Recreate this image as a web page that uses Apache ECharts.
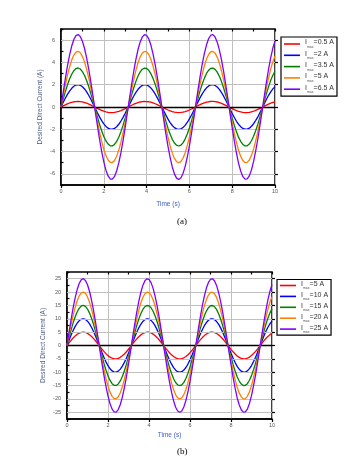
<!DOCTYPE html>
<html><head><meta charset="utf-8">
<script src="https://cdn.jsdelivr.net/npm/echarts@6/dist/echarts.min.js"></script>
<style>html,body{margin:0;padding:0;background:#fff}#c{width:363px;height:471px}</style>
</head><body><div id="c"></div>
<script>
// Time samples (s)
const time = [0,0.1,0.2,0.3,0.4,0.5,0.6,0.7,0.8,0.9,1,1.1,1.2,1.3,1.4,1.5,1.6,1.7,1.8,1.9,2,2.1,2.2,2.3,2.4,2.5,2.6,2.7,2.8,2.9,3,3.1,3.2,3.3,3.4,3.5,3.6,3.7,3.8,3.9,4,4.1,4.2,4.3,4.4,4.5,4.6,4.7,4.8,4.9,5,5.1,5.2,5.3,5.4,5.5,5.6,5.7,5.8,5.9,6,6.1,6.2,6.3,6.4,6.5,6.6,6.7,6.8,6.9,7,7.1,7.2,7.3,7.4,7.5,7.6,7.7,7.8,7.9,8,8.1,8.2,8.3,8.4,8.5,8.6,8.7,8.8,8.9,9,9.1,9.2,9.3,9.4,9.5,9.6,9.7,9.8,9.9,10];

// Chart (a): I_max = 0.5, 2, 3.5, 5, 6.5 A
const namesA = ['0.5 A','2 A','3.5 A','5 A','6.5 A'];
const a05 = [0,0.10,0.19,0.28,0.36,0.42,0.47,0.49,0.50,0.49,0.45,0.40,0.34,0.26,0.17,0.07,-0.03,-0.13,-0.22,-0.31,-0.38,-0.44,-0.48,-0.50,-0.50,-0.48,-0.44,-0.39,-0.32,-0.23,-0.14,-0.04,0.06,0.16,0.25,0.33,0.40,0.45,0.48,0.50,0.49,0.47,0.43,0.37,0.29,0.21,0.11,0.01,-0.09,-0.18,-0.27,-0.35,-0.41,-0.46,-0.49,-0.50,-0.49,-0.46,-0.41,-0.35,-0.27,-0.18,-0.08,0.02,0.12,0.21,0.30,0.37,0.43,0.47,0.50,0.50,0.48,0.45,0.39,0.33,0.24,0.15,0.05,-0.05,-0.14,-0.24,-0.32,-0.39,-0.44,-0.48,-0.50,-0.50,-0.48,-0.43,-0.38,-0.30,-0.22,-0.12,-0.03,0.08,0.17,0.26,0.34,0.41,0.46];
const a2 = [0,0.40,0.78,1.13,1.43,1.68,1.86,1.97,2.00,1.95,1.82,1.62,1.35,1.03,0.67,0.28,-0.12,-0.51,-0.89,-1.22,-1.51,-1.74,-1.90,-1.99,-1.99,-1.92,-1.77,-1.55,-1.26,-0.93,-0.56,-0.17,0.23,0.62,0.99,1.31,1.59,1.80,1.94,2.00,1.98,1.88,1.71,1.47,1.17,0.82,0.45,0.05,-0.35,-0.73,-1.09,-1.40,-1.66,-1.85,-1.96,-2.00,-1.96,-1.84,-1.65,-1.39,-1.07,-0.72,-0.33,0.07,0.46,0.84,1.18,1.48,1.72,1.89,1.98,2.00,1.93,1.79,1.58,1.30,0.97,0.61,0.22,-0.18,-0.58,-0.94,-1.28,-1.56,-1.77,-1.92,-1.99,-1.99,-1.90,-1.73,-1.50,-1.20,-0.88,-0.49,-0.10,0.30,0.69,1.05,1.36,1.63,1.83];
const a35 = [0,0.70,1.36,1.98,2.51,2.94,3.26,3.45,3.50,3.41,3.18,2.83,2.36,1.81,1.17,0.49,-0.20,-0.90,-1.55,-2.14,-2.65,-3.05,-3.33,-3.48,-3.49,-3.36,-3.09,-2.71,-2.21,-1.63,-0.98,-0.29,0.41,1.09,1.73,2.30,2.78,3.15,3.39,3.49,3.46,3.29,2.99,2.57,2.05,1.44,0.78,0.09,-0.61,-1.28,-1.90,-2.45,-2.90,-3.23,-3.43,-3.50,-3.43,-3.22,-2.88,-2.43,-1.88,-1.25,-0.58,0.12,0.81,1.47,2.07,2.59,3.01,3.30,3.47,3.49,3.38,3.13,2.76,2.28,1.70,1.06,0.38,-0.32,-1.01,-1.65,-2.23,-2.73,-3.10,-3.36,-3.49,-3.48,-3.33,-3.03,-2.63,-2.11,-1.54,-0.86,-0.18,0.53,1.20,1.83,2.39,2.85,3.20];
const a5 = [0,1.00,1.95,2.83,3.59,4.21,4.66,4.93,5.00,4.87,4.55,4.04,3.38,2.58,1.68,0.71,-0.29,-1.28,-2.22,-3.06,-3.79,-4.36,-4.76,-4.97,-4.98,-4.80,-4.42,-3.87,-3.16,-2.33,-1.40,-0.42,0.59,1.56,2.47,3.29,3.97,4.50,4.84,4.99,4.95,4.71,4.28,3.67,2.93,2.06,1.12,0.13,-0.88,-1.84,-2.72,-3.50,-4.14,-4.62,-4.91,-5.00,-4.90,-4.60,-4.12,-3.47,-2.69,-1.79,-0.83,0.17,1.16,2.10,2.96,3.70,4.30,4.72,4.96,4.99,4.83,4.48,3.94,3.25,2.44,1.52,0.54,-0.46,-1.44,-2.36,-3.19,-3.91,-4.44,-4.81,-4.99,-4.97,-4.76,-4.34,-3.76,-3.01,-2.20,-1.24,-0.25,0.75,1.72,2.62,3.41,4.07,4.57];
const a65 = [0,1.29,2.53,3.67,4.66,5.47,6.06,6.40,6.50,6.33,5.91,5.25,4.39,3.35,2.18,0.92,-0.38,-1.66,-2.88,-3.98,-4.92,-5.67,-6.19,-6.46,-6.47,-6.23,-5.74,-5.02,-4.10,-3.02,-1.81,-0.54,0.76,2.03,3.21,4.27,5.16,5.84,6.29,6.49,6.43,6.12,5.56,4.77,3.80,2.68,1.45,0.16,-1.14,-2.39,-3.54,-4.54,-5.38,-6.00,-6.38,-6.50,-6.37,-5.97,-5.35,-4.51,-3.49,-2.33,-1.08,0.22,1.51,2.73,3.85,4.81,5.58,6.14,6.44,6.49,6.28,5.82,5.12,4.23,3.17,1.97,0.70,-0.60,-1.87,-3.07,-4.15,-5.08,-5.77,-6.25,-6.48,-6.45,-6.18,-5.64,-4.88,-3.91,-2.85,-1.61,-0.33,0.98,2.23,3.40,4.43,5.29,5.93];
const yTicksA = [-6,-4,-2,0,2,4,6];

// Chart (b): I_max = 5, 10, 15, 20, 25 A
const namesB = ['5 A','10 A','15 A','20 A','25 A'];
const b5 = [0,1.00,1.95,2.83,3.59,4.21,4.66,4.93,5.00,4.87,4.55,4.04,3.38,2.58,1.68,0.71,-0.29,-1.28,-2.22,-3.06,-3.79,-4.36,-4.76,-4.97,-4.98,-4.80,-4.42,-3.87,-3.16,-2.33,-1.40,-0.42,0.59,1.56,2.47,3.29,3.97,4.50,4.84,4.99,4.95,4.71,4.28,3.67,2.93,2.06,1.12,0.13,-0.88,-1.84,-2.72,-3.50,-4.14,-4.62,-4.91,-5.00,-4.90,-4.60,-4.12,-3.47,-2.69,-1.79,-0.83,0.17,1.16,2.10,2.96,3.70,4.30,4.72,4.96,4.99,4.83,4.48,3.94,3.25,2.44,1.52,0.54,-0.46,-1.44,-2.36,-3.19,-3.91,-4.44,-4.81,-4.99,-4.97,-4.76,-4.34,-3.76,-3.01,-2.20,-1.24,-0.25,0.75,1.72,2.62,3.41,4.07,4.57];
const b10 = [0,1.99,3.89,5.65,7.17,8.41,9.32,9.85,10.00,9.74,9.09,8.08,6.75,5.16,3.35,1.41,-0.58,-2.56,-4.43,-6.12,-7.57,-8.72,-9.52,-9.94,-9.96,-9.59,-8.83,-7.73,-6.31,-4.65,-2.79,-0.83,1.17,3.12,4.94,6.57,7.94,8.99,9.68,9.98,9.89,9.41,8.55,7.34,5.85,4.12,2.23,0.25,-1.75,-3.67,-5.44,-6.99,-8.28,-9.23,-9.81,-10.00,-9.80,-9.19,-8.23,-6.94,-5.37,-3.58,-1.66,0.34,2.32,4.20,5.92,7.40,8.59,9.44,9.91,9.98,9.66,8.95,7.88,6.50,4.87,3.03,1.08,-0.92,-2.88,-4.72,-6.38,-7.81,-8.87,-9.61,-9.97,-9.93,-9.51,-8.67,-7.51,-6.02,-4.39,-2.47,-0.50,1.50,3.43,5.23,6.82,8.14,9.13];
const b15 = [0,2.99,5.84,8.48,10.76,12.62,13.98,14.78,15.00,14.61,13.64,12.12,10.13,7.74,5.03,2.12,-0.87,-3.84,-6.65,-9.18,-11.36,-13.08,-14.28,-14.91,-14.94,-14.39,-13.25,-11.60,-9.47,-6.98,-4.19,-1.25,1.76,4.68,7.41,9.86,11.91,13.49,14.52,14.97,14.84,14.12,12.83,11.01,8.78,6.18,3.35,0.38,-2.63,-5.51,-8.16,-10.49,-12.42,-13.85,-14.72,-15.00,-14.70,-13.79,-12.35,-10.41,-8.06,-5.37,-2.49,0.51,3.48,6.30,8.88,11.10,12.89,14.16,14.87,14.97,14.49,13.43,11.82,9.75,7.31,4.55,1.62,-1.38,-4.32,-7.08,-9.57,-11.72,-13.31,-14.42,-14.96,-14.90,-14.27,-13.01,-11.27,-9.03,-6.59,-3.71,-0.75,2.25,5.15,7.85,10.23,12.21,13.70];
const b20 = [0,3.98,7.78,11.30,14.34,16.82,18.64,19.70,20.00,19.48,18.18,16.16,13.50,10.32,6.70,2.82,-1.16,-5.12,-8.86,-12.24,-15.14,-17.44,-19.04,-19.88,-19.92,-19.18,-17.66,-15.46,-12.62,-9.30,-5.58,-1.66,2.34,6.24,9.88,13.14,15.88,17.98,19.36,19.96,19.78,18.82,17.10,14.68,11.70,8.24,4.46,0.50,-3.50,-7.34,-10.88,-13.98,-16.56,-18.46,-19.62,-20.00,-19.60,-18.38,-16.46,-13.88,-10.74,-7.16,-3.32,0.68,4.64,8.40,11.84,14.80,17.18,18.88,19.82,19.96,19.32,17.90,15.76,13.00,9.74,6.06,2.16,-1.84,-5.76,-9.44,-12.76,-15.62,-17.74,-19.22,-19.94,-19.86,-19.02,-17.34,-15.02,-12.04,-8.78,-4.94,-1.00,3.00,6.86,10.46,13.64,16.28,18.26];
const b25 = [0,4.98,9.73,14.13,17.93,21.03,23.30,24.63,25.00,24.35,22.73,20.20,16.88,12.90,8.38,3.53,-1.45,-6.40,-11.08,-15.30,-18.93,-21.80,-23.80,-24.85,-24.90,-23.98,-22.08,-19.33,-15.78,-11.63,-6.98,-2.08,2.93,7.80,12.35,16.43,19.85,22.48,24.20,24.95,24.73,23.53,21.38,18.35,14.63,10.30,5.58,0.63,-4.38,-9.18,-13.60,-17.48,-20.70,-23.08,-24.53,-25.00,-24.50,-22.98,-20.58,-17.35,-13.43,-8.95,-4.15,0.85,5.80,10.50,14.80,18.50,21.48,23.60,24.78,24.95,24.15,22.38,19.70,16.25,12.18,7.58,2.70,-2.30,-7.20,-11.80,-15.95,-19.53,-22.18,-24.03,-24.93,-24.83,-23.78,-21.68,-18.78,-15.05,-10.98,-6.18,-1.25,3.75,8.58,13.08,17.05,20.35,22.83];
const yTicksB = [-25,-20,-15,-10,-5,0,5,10,15,20,25];

const colors = ['#ff0000','#0000ff','#008000','#ff8000','#8000ff'];
const FONT = 'Liberation Sans, Arial, sans-serif';
const pair = arr => arr.map((v,i)=>[time[i], v]);
// unique internal series ids per panel: "a|5 A", "b|5 A"
const key = (p, n) => p + '|' + n;

function mkSeries(gi, prefix, names, arrs, gridVals) {
  return arrs.map((arr, k) => {
    const s = {
      type:'line', name: key(prefix, names[k]), xAxisIndex: gi*2, yAxisIndex: gi*2,
      data: pair(arr), smooth: false, symbol:'none', showSymbol:false,
      lineStyle:{color: colors[k], width:1.3}, itemStyle:{color: colors[k]},
      z: 3 + k
    };
    if (k === 0) {
      s.markLine = {
        silent:true, symbol:'none', label:{show:false}, animation:false,
        data: gridVals.map(v => ({yAxis: v, lineStyle:{color: v===0 ? '#000' : '#c0c0c0', width: v===0 ? 1.4 : 1, type:'solid'}}))
      };
    }
    return s;
  });
}

function mkAxes(gi, ymin, ymax, yint, yTicks, nameGapY) {
  const labelStyle = {fontSize:5.5, color:'#555', fontFamily: FONT};
  const xa = [
    {gridIndex:gi, type:'value', min:0, max:10, interval:2,
     axisLine:{show:true, onZero:false, lineStyle:{color:'#000', width:1.5}},
     axisTick:{show:true, inside:false, length:3, lineStyle:{color:'#000', width:1.2}},
     axisLabel:{...labelStyle, margin:3},
     splitLine:{show:true, lineStyle:{color:'#c0c0c0', width:1}},
     name:'Time (s)', nameLocation:'middle', nameGap: gi===0 ? 16 : 13, nameMoveOverlap:false,
     nameTextStyle:{fontSize:6.5, color:'#3d5fc4', fontFamily: FONT}},
    {gridIndex:gi, type:'value', min:0, max:10, interval:1,
     axisLine:{show:false, onZero:false},
     axisTick:{show:true, inside:true, length:2.5, lineStyle:{color:'#000', width:1.2}},
     axisLabel:{show:false}, splitLine:{show:false}}
  ];
  const ya = [
    {gridIndex:gi, type:'value', min:ymin, max:ymax, interval:yint,
     axisLine:{show:true, onZero:false, lineStyle:{color:'#000', width:1.5}},
     axisTick:{show:true, inside:true, length:2.5, lineStyle:{color:'#000', width:1.2}},
     axisLabel:{...labelStyle, margin:6, formatter: v => yTicks.indexOf(Math.round(v*100)/100) >= 0 ? String(v) : ''},
     splitLine:{show:false},
     name:'Desired Direct Current (A)', nameLocation:'middle', nameGap: nameGapY, nameMoveOverlap:false,
     nameTextStyle:{fontSize:6.5, color:'#4a5a85', fontFamily: FONT}},
    {gridIndex:gi, type:'value', min:ymin, max:ymax, interval:yint,
     axisLine:{show:false, onZero:false},
     axisTick:{show:true, inside:false, length:3, customValues: yTicks, lineStyle:{color:'#000', width:1.2}},
     axisLabel:{show:false}, splitLine:{show:false}}
  ];
  return {xa, ya};
}

const axA = mkAxes(0, -7, 7, 1, yTicksA, 17);
const axB = mkAxes(1, -27.5, 27.5, 2.5, yTicksB, 20);

const legendCommon = {
  orient:'vertical', icon:'rect', itemWidth:16, itemHeight:1.6,
  borderColor:'#000', borderWidth:1.2, backgroundColor:'#fff',
  formatter: n => '{i|I}{s|max}{t|=' + n.split('|')[1] + '}',
  textStyle:{
    fontFamily: FONT, color:'#333',
    rich:{
      i:{fontSize:7, fontFamily: FONT, color:'#333', verticalAlign:'top', lineHeight:10},
      s:{fontSize:3.5, fontFamily: FONT, color:'#555', verticalAlign:'bottom', lineHeight:10},
      t:{fontSize:7, fontFamily: FONT, color:'#333', verticalAlign:'top', lineHeight:10}
    }
  }
};

const chart = echarts.init(document.getElementById('c'), null, {renderer:'canvas'});
chart.setOption({
  animation:false,
  backgroundColor:'#fff',
  grid:[
    {left:61, top:29, width:214, height:156, show:true, borderColor:'#000', borderWidth:1.5, backgroundColor:'transparent'},
    {left:67, top:272, width:205, height:147, show:true, borderColor:'#000', borderWidth:1.5, backgroundColor:'transparent'}
  ],
  xAxis: [...axA.xa, ...axB.xa],
  yAxis: [...axA.ya, ...axB.ya],
  legend:[
    {...legendCommon, data: namesA.map(n => key('a', n)), left:281, top:37, padding:[2,3,2,3], itemGap:1.3},
    {...legendCommon, data: namesB.map(n => key('b', n)), left:277, top:279.5, padding:[1,3,1,3], itemGap:0.9}
  ],
  series:[
    ...mkSeries(0, 'a', namesA, [a05,a2,a35,a5,a65], yTicksA),
    ...mkSeries(1, 'b', namesB, [b5,b10,b15,b20,b25], yTicksB)
  ],
  graphic:[
    {type:'text', left:177, top:217, style:{text:'(a)', font:'9px "Liberation Serif", serif', fill:'#000'}},
    {type:'text', left:177, top:447, style:{text:'(b)', font:'9px "Liberation Serif", serif', fill:'#000'}}
  ]
});
</script>
</body></html>
